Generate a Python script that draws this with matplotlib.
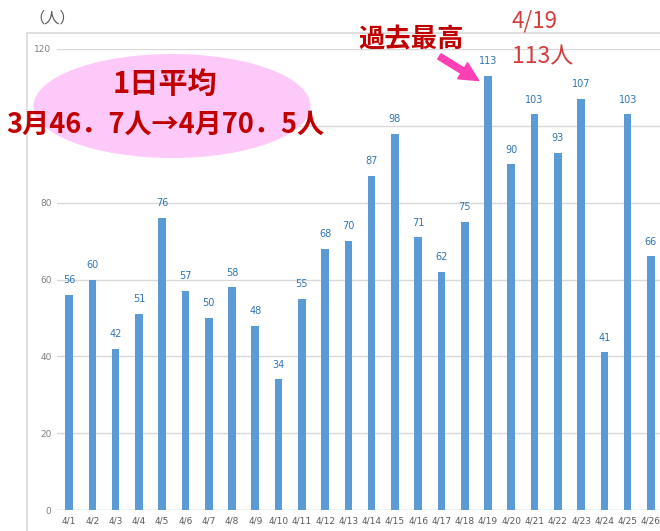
import matplotlib
matplotlib.use("Agg")
import matplotlib.pyplot as plt
from matplotlib.patches import Ellipse, Rectangle, FancyArrowPatch

plt.rcParams['font.family'] = ['Noto Sans CJK JP', 'DejaVu Sans']

dates = ["4/1","4/2","4/3","4/4","4/5","4/6","4/7","4/8","4/9","4/10","4/11","4/12","4/13",
         "4/14","4/15","4/16","4/17","4/18","4/19","4/20","4/21","4/22","4/23","4/24","4/25","4/26"]
values = [56,60,42,51,76,57,50,58,48,34,55,68,70,87,98,71,62,75,113,90,103,93,107,41,103,66]
yticks = [0,20,40,60,80,100,120]

W, H = 660, 531
fig = plt.figure(figsize=(W/100, H/100), dpi=100)

def fx(px): return px / W
def fy(py): return 1 - py / H

# outer frame
fig.patches.append(Rectangle((fx(27), fy(540)), fx(700) - fx(27), fy(33) - fy(540),
                             transform=fig.transFigure, fill=False, edgecolor='#d9d9d9', lw=1.2))

ax = fig.add_axes([fx(57), fy(510), fx(660) - fx(57), fy(49) - fy(510)])
x = list(range(len(values)))
ax.bar(x, values, width=0.33, color='#5b9bd5', zorder=3)
ax.set_xlim(-0.52, 25.39)
ax.set_ylim(0, 120)
ax.set_yticks(yticks)
# the "100" label is hidden behind the ellipse in the reference
ax.set_yticklabels([str(v) if v != 100 else '' for v in yticks], fontsize=6.5,
                   color='#7f7f7f', family='DejaVu Sans')
ax.set_xticks(x)
ax.set_xticklabels(dates, fontsize=6.5, color='#595959', family='DejaVu Sans')
ax.tick_params(axis='both', length=0, pad=5)
ax.tick_params(axis='y', pad=4)
ax.yaxis.grid(True, color='#d9d9d9', lw=1)
ax.set_axisbelow(True)
for s in ax.spines.values():
    s.set_visible(False)
ax.axhline(0, color='#d9d9d9', lw=1, zorder=2)

for xi, v in zip(x, values):
    ax.text(xi, v + 2.5, str(v), ha='center', va='bottom', fontsize=7, color='#2e75b6',
            family='DejaVu Sans', zorder=4)

# (人)
fig.text(fx(29), fy(18), '（人）', fontsize=11, color='#595959', va='center', ha='left')

# ellipse annotation
fig.patches.append(Ellipse((fx(172), fy(106)), fx(277), fy(0) - fy(104),
                           transform=fig.transFigure, facecolor='#fdc9f9', edgecolor='none', zorder=5))
fig.text(fx(165), fy(84), '1日平均', fontsize=21, color='#c00000', ha='center', va='center',
         fontweight='bold', zorder=6)
fig.text(fx(165), fy(125), '3月46．7人→4月70．5人', fontsize=19.5, color='#c00000', ha='center',
         va='center', fontweight='bold', zorder=6)

# 過去最高
fig.text(fx(411), fy(40), '過去最高', fontsize=19, color='#c00000', ha='center', va='center',
         fontweight='bold')
fig.patches.append(FancyArrowPatch((fx(437), fy(55)), (fx(481), fy(82)), transform=fig.transFigure,
                                   arrowstyle='simple,head_width=9,head_length=9,tail_width=3',
                                   color='#ff3fb4', mutation_scale=1.5))
fig.text(fx(534), fy(21), '4/19', fontsize=16, color='#d43c3c', ha='center', va='center')
fig.text(fx(543), fy(57), '113人', fontsize=16.5, color='#d43c3c', ha='center', va='center')

fig.savefig('out.png', dpi=100)
